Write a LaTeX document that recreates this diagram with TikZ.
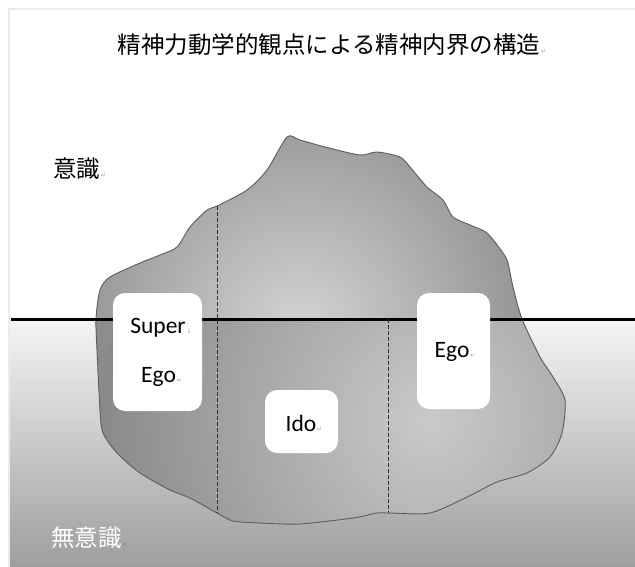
\documentclass[tikz,border=0pt]{standalone}
\usepackage{fontspec}
\setmainfont{Carlito}
\newfontfamily\jpfont{Noto Sans CJK JP}
\newfontfamily\symfont{DejaVu Sans}
\definecolor{bergout}{HTML}{8C8C8C}
\definecolor{bergin}{HTML}{D4D4D4}
\definecolor{bergedge}{HTML}{5E5E5E}
\begin{document}
\begin{tikzpicture}[x=1pt,y=-1pt,
  lbl/.style={font=\fontsize{23.5}{26}\selectfont, inner sep=0pt, anchor=center},
  jplbl/.style={font=\jpfont\fontsize{23.5}{26}\selectfont, inner sep=0pt, anchor=center},
  partbox/.style={fill=white, rounded corners=12pt, draw=none, inner sep=0pt},
  divider/.style={draw=black!80, line width=0.8pt, dash pattern=on 4pt off 2pt},
  pmark/.style={font=\symfont\fontsize{6}{7}\selectfont, text=black!40, inner sep=0.5pt, anchor=base west}]
\def\bergpath{plot[smooth cycle, tension=0.45] coordinates {
 (96,319) (97,350) (100,410) (103,433) (117,453) (140,473) (170,490) (190,498)
 (217,513) (233,521) (260,523) (300,524) (353,518) (377,513) (388,513) (430,513)
 (467,497) (497,482) (527,473) (550,457) (562,433) (565,400) (553,377) (540,357)
 (522,319) (513,287) (508,263) (503,253) (487,233) (470,225) (453,217) (443,200)
 (427,187) (410,167) (400,157) (377,152) (360,155) (325,147) (300,140) (287,137)
 (267,170) (247,190) (217,206) (207,210) (190,227) (177,247) (160,255) (140,263)
 (110,277) (100,290)}}
\useasboundingbox (0,0) rectangle (635,567);
\fill[white] (0,0) rectangle (635,567);
% below-water gradient
\shade[top color=black!4, bottom color=black!38] (10,319) rectangle (635,567);
% frame edge
\draw[black!8, line width=2pt] (9,567) -- (9,9) -- (635,9);
% iceberg
\fill[bergout] \bergpath;
\begin{scope}
  \clip \bergpath;
  \shade[inner color=bergin, outer color=bergout] (300,330) circle (260pt);
  \clip (0,319) rectangle (635,567);
  \fill[bergout] (0,319) rectangle (635,567);
  \shade[inner color=black!21, outer color=black!46] (430,420) circle (330pt);
\end{scope}
\draw[bergedge, line width=0.9pt] \bergpath;
% water line
\coordinate (wl) at (11,319);
\coordinate (wr) at (635,319);
\draw[black, line width=3pt] (wl) -- (wr);
% dividers
\coordinate (d1t) at (217,206);
\coordinate (d1b) at (217,513);
\coordinate (d2t) at (388,319);
\coordinate (d2b) at (388,513);
\draw[divider] (d1t) -- (d1b);
\draw[divider] (d2t) -- (d2b);
% boxes
\node[partbox, minimum width=89pt, minimum height=118pt] (superbox) at (157.5,352) {};
\node[partbox, minimum width=73pt, minimum height=63pt] (idobox) at (301.5,421.5) {};
\node[partbox, minimum width=73pt, minimum height=116pt] (egobox) at (453.5,351) {};
% texts
\node[lbl] (super) at (158,328) {Super};
\node[pmark] at (super.base east) {↓};
\node[lbl] (superego) at (158.5,377) {Ego};
\node[pmark] at (superego.base east) {↵};
\node[lbl] (ido) at (301,423) {Ido};
\node[pmark] at (ido.base east) {↵};
\node[lbl] (ego) at (452,352) {Ego};
\node[pmark] at (ego.base east) {↵};
\node[jplbl] (title) at (329,45) {精神力動学的観点による精神内界の構造};
\node[pmark] at (title.base east) {↵};
\node[jplbl] (conscious) at (76.5,169) {意識};
\node[pmark] at (conscious.base east) {↵};
\node[jplbl, text=white] (uncon) at (86.5,538) {無意識};
\node[pmark, text=black!50] at (uncon.base east) {↵};
\end{tikzpicture}
\end{document}
